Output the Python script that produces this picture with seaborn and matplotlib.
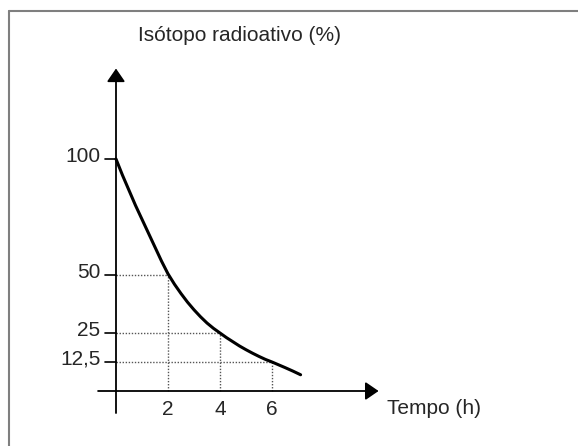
import matplotlib
matplotlib.use("Agg")
import matplotlib.pyplot as plt
import seaborn as sns
from matplotlib.lines import Line2D

# decay curve
tempo = [0, 0.25, 0.5, 0.75, 1, 1.25, 1.5, 1.75, 2, 2.25, 2.5, 2.75, 3, 3.25,
         3.5, 3.75, 4, 4.25, 4.5, 4.75, 5, 5.25, 5.5, 5.75, 6, 6.25, 6.5, 6.8, 7.1]
isotopo = [100, 93, 86.5, 80, 74, 68, 62, 56, 50.5, 46, 42, 38.3, 35, 32,
           29.3, 27, 25, 23, 21.2, 19.4, 17.8, 16.3, 14.9, 13.6, 12.5, 11.3, 10.1, 8.6, 7]

# guide points (half-lives)
meia_t = [2, 4, 6]
meia_v = [50, 25, 12.5]

y_ticks = [100, 50, 25, 12.5]
y_labels = ["100", "50", "25", "12,5"]
x_ticks = [2, 4, 6]
x_labels = ["2", "4", "6"]

sns.set_style("white")
plt.rcParams["font.family"] = ["Liberation Sans", "DejaVu Sans"]

W, H = 578, 446
fig = plt.figure(figsize=(W / 100, H / 100), dpi=100)
ax = fig.add_axes([0, 0, 1, 1])

# pixel mapping: x=0 at px 116, 26 px/unit; y=0 at px 391, 2.32 px/unit
x0, sx = 116, 26.0
y0, sy = 391, 2.32
ax.set_xlim(-x0 / sx, (W - x0) / sx)
ax.set_ylim((y0 - H) / sy, y0 / sy)
ax.axis("off")

fs = 15

# dotted guides
for t, v in zip(meia_t, meia_v):
    ax.plot([0, t], [v, v], color="#555555", lw=1, ls=(0, (1, 1.2)))
    ax.plot([t, t], [0, v], color="#555555", lw=1, ls=(0, (1, 1.2)))

# axes with arrows
arrow = dict(arrowstyle="-|>,head_length=0.8,head_width=0.55", lw=1.3,
             color="black", shrinkA=0, shrinkB=0)
ax.annotate("", xy=(0, 139), xytext=(0, -9.5), arrowprops=arrow)
ax.annotate("", xy=(10.1, 0), xytext=(-0.69, 0), arrowprops=arrow)

# curve
sns.lineplot(x=tempo, y=isotopo, ax=ax, color="black", lw=2.2)

# y ticks and labels
for v, lab in zip(y_ticks, y_labels):
    ax.plot([-0.42, 0], [v, v], color="black", lw=1.2)
    ax.text(-0.6, v + 1.2, lab, ha="right", va="center", fontsize=fs)

for t, lab in zip(x_ticks, x_labels):
    ax.text(t, -7.8, lab, ha="center", va="center", fontsize=fs)

ax.text(0.85, 153.4, "Isótopo radioativo (%)", ha="left", va="center", fontsize=fs)
ax.text(10.42, -7.5, "Tempo (h)", ha="left", va="center", fontsize=fs)

# outer frame (only top and left visible)
fig.add_artist(Line2D([8.5 / W, 1], [1 - 10.5 / H, 1 - 10.5 / H],
                      transform=fig.transFigure, color="#7f7f7f", lw=1.5))
fig.add_artist(Line2D([8.5 / W, 8.5 / W], [0, 1 - 10.5 / H],
                      transform=fig.transFigure, color="#7f7f7f", lw=1.5))

fig.savefig("out.png", dpi=100)
